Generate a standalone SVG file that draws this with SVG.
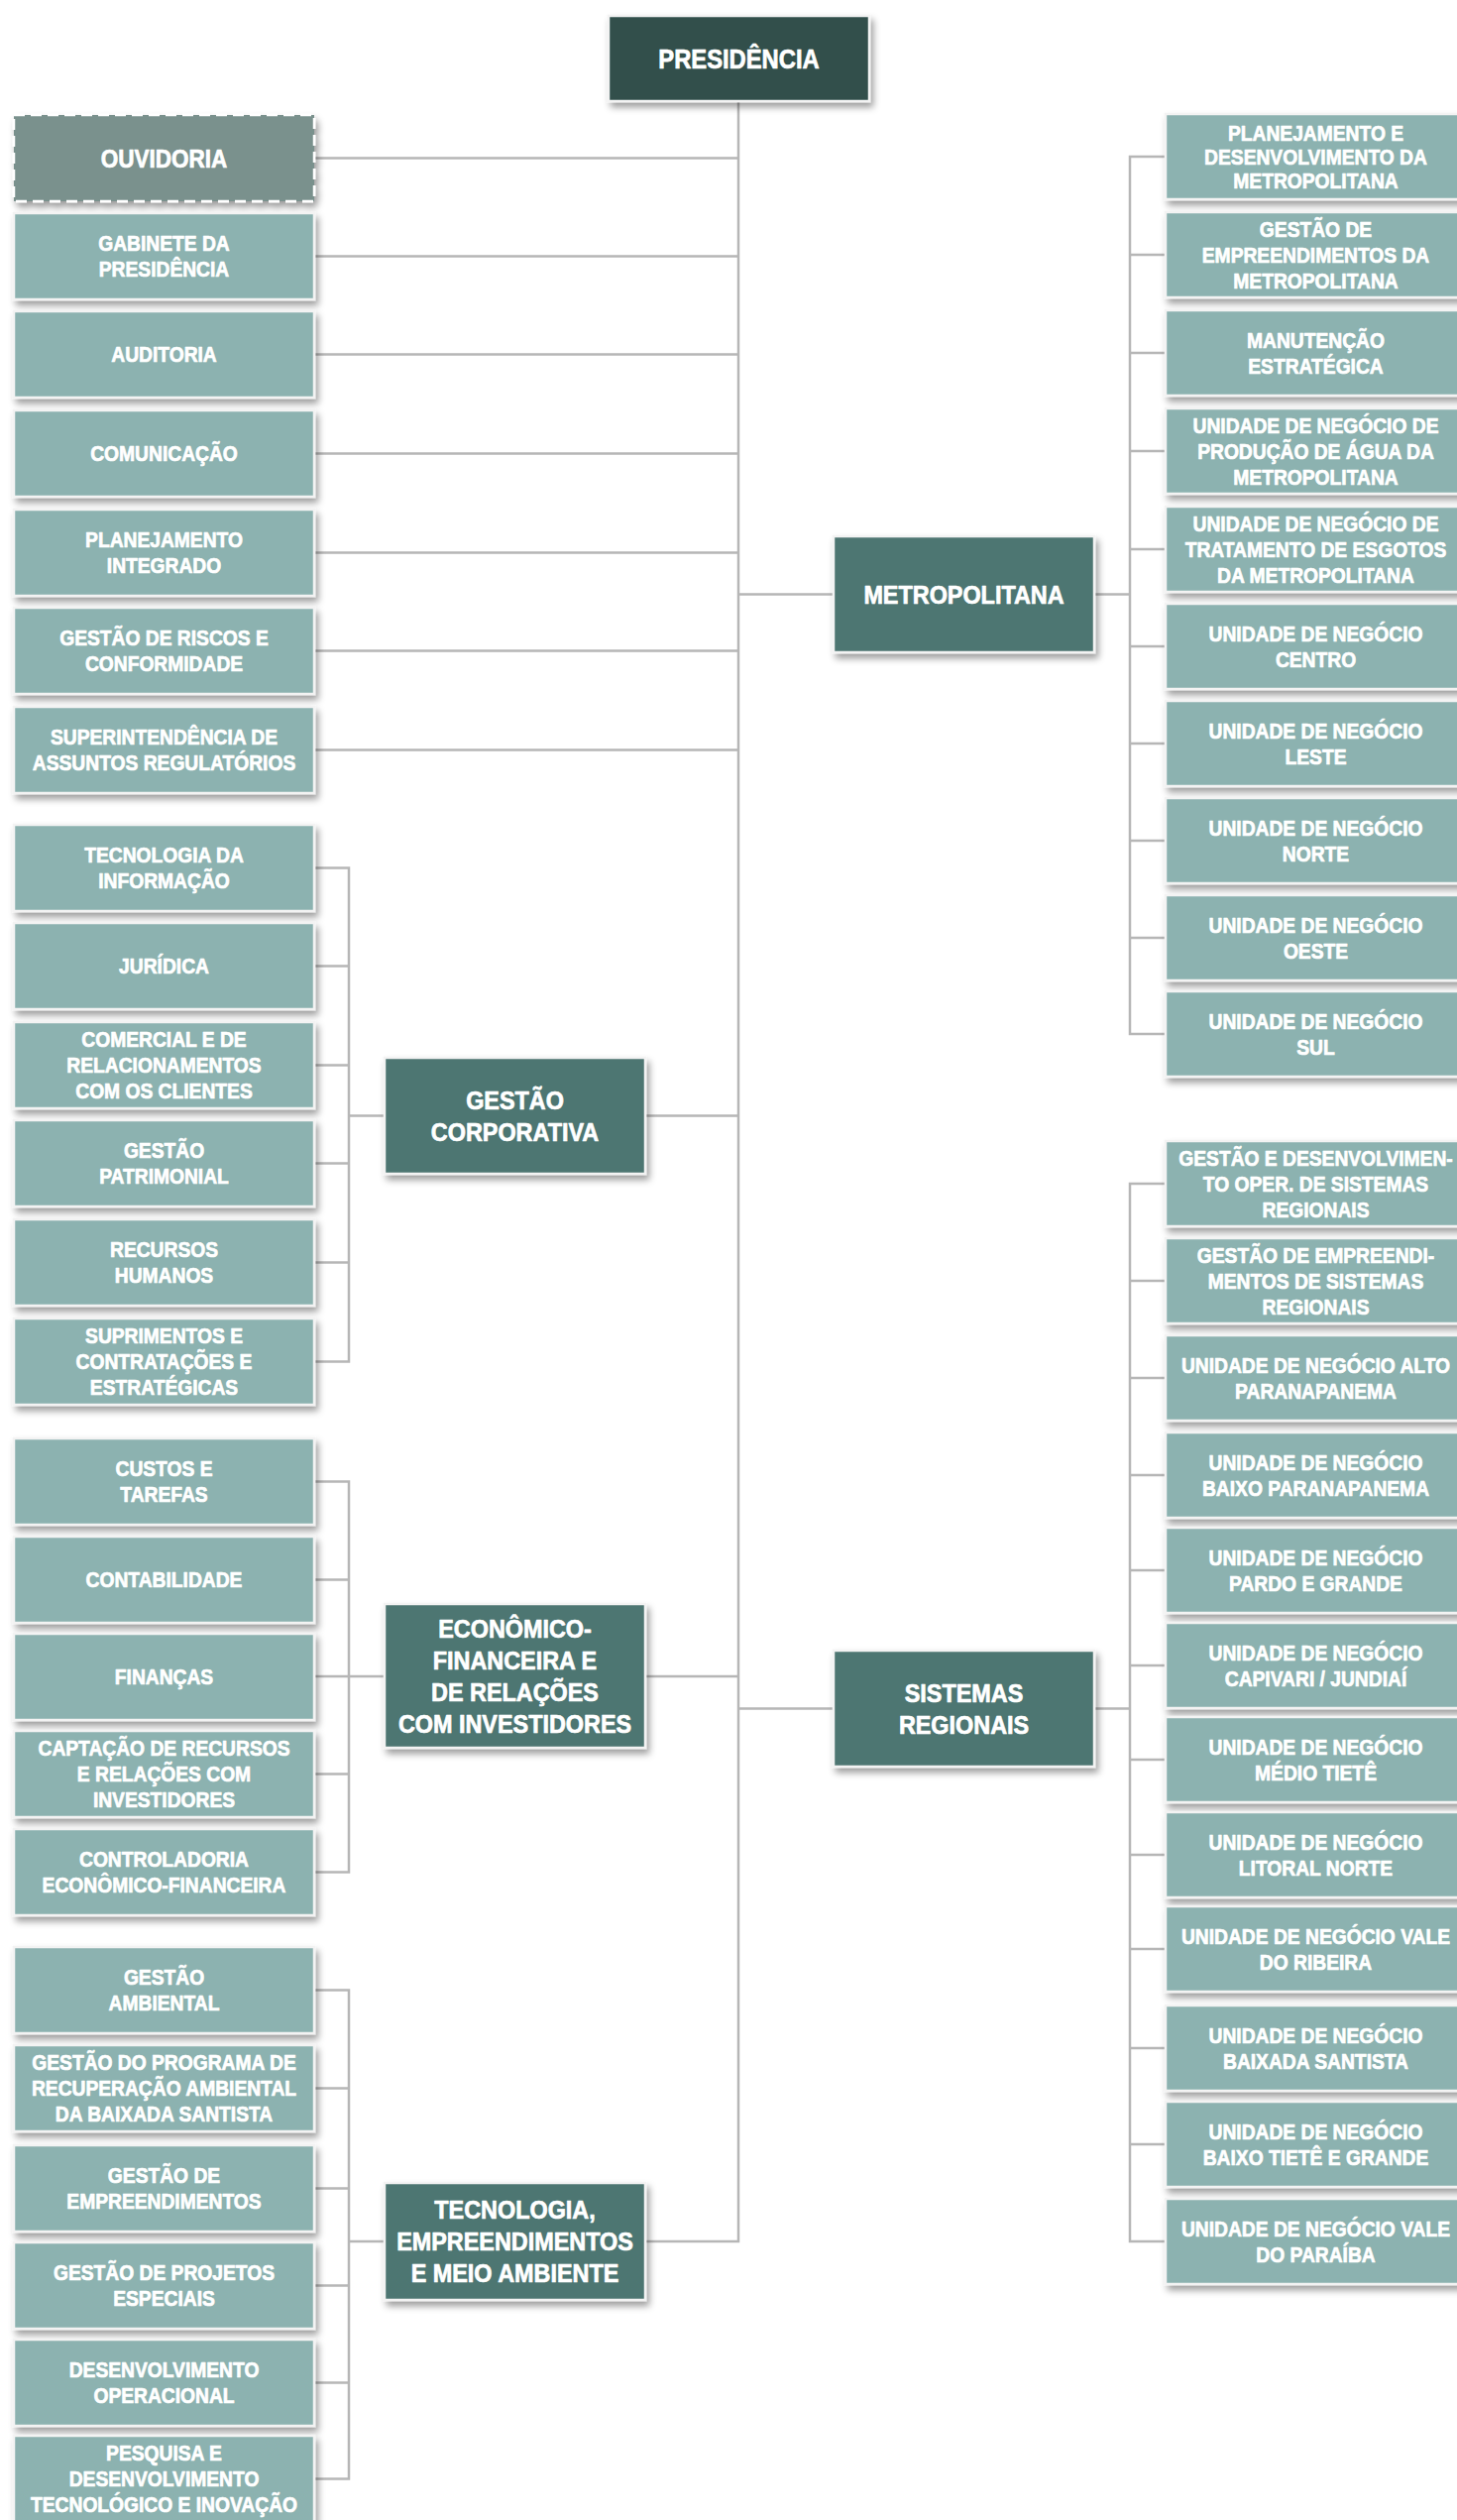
<svg xmlns="http://www.w3.org/2000/svg" width="1470" height="2542" viewBox="0 0 1470 2542">
  <defs>
    <filter id="sh" x="-10%" y="-10%" width="125%" height="140%">
      <feDropShadow dx="3" dy="5" stdDeviation="3.5" flood-color="#000" flood-opacity="0.38"/>
    </filter>
  </defs>
  <style>
    .bg { fill: #ffffff; }
    .c { fill: none; stroke: #b6b6b6; stroke-width: 2.5; }
    .leaf { fill: #8cb2b0; stroke: #f3f3f3; stroke-width: 2.5; filter: url(#sh); }
    .mid { fill: #4e7672; stroke: #f3f3f3; stroke-width: 2.5; filter: url(#sh); }
    .top { fill: #304f4c; stroke: #f3f3f3; stroke-width: 2.5; filter: url(#sh); }
    .ouv { fill: #7a918d; stroke: #ffffff; stroke-width: 2.5; stroke-dasharray: 11 6; filter: url(#sh); }
    text { font-family: "Liberation Sans", Arial, sans-serif; font-weight: bold; fill: #ffffff; stroke: #ffffff; stroke-width: 0.7; stroke-linejoin: round; text-anchor: middle; }
    .t { font-size: 22px; }
    .tm { font-size: 26px; }
    .tp { font-size: 27px; }
    .to { font-size: 25px; }
  </style>
  <rect class="bg" x="0" y="0" width="1470" height="2542"/>

  <!-- connector lines -->
  <g id="connectors">
    <path class="c" d="M745 102 V2261 H651
      M317 159.5 H745 M317 258.5 H745 M317 357.5 H745 M317 457.5 H745 M317 557.5 H745 M317 656.5 H745 M317 756.5 H745
      M651 1125.5 H745 M651 1691 H745 M745 599.5 H841 M745 1723.5 H841
      M317 875.5 H352 V1373.5 H317 M317 974.5 H352 M317 1074.5 H352 M317 1173.5 H352 M317 1273.5 H352 M352 1125.5 H388
      M317 1494.5 H352 V1888.5 H317 M317 1593.5 H352 M317 1691 H388 M317 1789.5 H352
      M317 2007.5 H352 V2500.5 H317 M317 2106.5 H352 M317 2207.5 H352 M317 2305.5 H352 M317 2403.5 H352 M352 2261 H388
      M1176 158 H1140 V1043 H1176 M1176 257 H1140 M1176 356 H1140 M1176 455 H1140 M1176 554 H1140 M1176 652 H1140 M1176 750 H1140 M1176 848 H1140 M1176 946 H1140 M1104 599.5 H1140
      M1176 1194 H1140 V2261 H1176 M1176 1292 H1140 M1176 1390 H1140 M1176 1488 H1140 M1176 1584 H1140 M1176 1680 H1140 M1176 1775 H1140 M1176 1871 H1140 M1176 1966 H1140 M1176 2066 H1140 M1176 2163 H1140 M1104 1723.5 H1140"/>
  </g>

  <!-- top level -->
  <g id="presidencia">
    <rect class="top" x="614" y="16" width="263" height="86"/>
    <text class="tp" transform="translate(745.5 59) scale(.88 1)"><tspan x="0" y="9.7">PRESIDÊNCIA</tspan></text>
  </g>

  <!-- staff units -->
  <g id="ouvidoria">
    <rect class="ouv" x="14" y="116" width="303" height="87"/>
    <text class="to" transform="translate(165.5 159.5) scale(.9 1)"><tspan x="0" y="9">OUVIDORIA</tspan></text>
  </g>
  <g id="gabinete">
    <rect class="leaf" x="14" y="215" width="303" height="87"/>
    <text class="t" transform="translate(165.5 258.5) scale(.875 1)"><tspan x="0" y="-5.1">GABINETE DA</tspan><tspan x="0" y="20.9">PRESIDÊNCIA</tspan></text>
  </g>
  <g id="auditoria">
    <rect class="leaf" x="14" y="314" width="303" height="87"/>
    <text class="t" transform="translate(165.5 357.5) scale(.875 1)"><tspan x="0" y="7.9">AUDITORIA</tspan></text>
  </g>
  <g id="comunicacao">
    <rect class="leaf" x="14" y="414" width="303" height="87"/>
    <text class="t" transform="translate(165.5 457.5) scale(.875 1)"><tspan x="0" y="7.9">COMUNICAÇÃO</tspan></text>
  </g>
  <g id="planejamento-integrado">
    <rect class="leaf" x="14" y="514" width="303" height="87"/>
    <text class="t" transform="translate(165.5 557.5) scale(.875 1)"><tspan x="0" y="-5.1">PLANEJAMENTO</tspan><tspan x="0" y="20.9">INTEGRADO</tspan></text>
  </g>
  <g id="riscos">
    <rect class="leaf" x="14" y="613" width="303" height="87"/>
    <text class="t" transform="translate(165.5 656.5) scale(.875 1)"><tspan x="0" y="-5.1">GESTÃO DE RISCOS E</tspan><tspan x="0" y="20.9">CONFORMIDADE</tspan></text>
  </g>
  <g id="regulatorios">
    <rect class="leaf" x="14" y="713" width="303" height="87"/>
    <text class="t" transform="translate(165.5 756.5) scale(.875 1)"><tspan x="0" y="-5.1">SUPERINTENDÊNCIA DE</tspan><tspan x="0" y="20.9">ASSUNTOS REGULATÓRIOS</tspan></text>
  </g>

  <!-- Gestão Corporativa -->
  <g id="gestao-corporativa">
    <rect class="mid" x="388" y="1067" width="263" height="117"/>
    <text class="tm" transform="translate(519.5 1125.5) scale(.9 1)"><tspan x="0" y="-6.7">GESTÃO</tspan><tspan x="0" y="25.3">CORPORATIVA</tspan></text>
  </g>
  <g id="ti">
    <rect class="leaf" x="14" y="832" width="303" height="87"/>
    <text class="t" transform="translate(165.5 875.5) scale(.875 1)"><tspan x="0" y="-5.1">TECNOLOGIA DA</tspan><tspan x="0" y="20.9">INFORMAÇÃO</tspan></text>
  </g>
  <g id="juridica">
    <rect class="leaf" x="14" y="931" width="303" height="87"/>
    <text class="t" transform="translate(165.5 974.5) scale(.875 1)"><tspan x="0" y="7.9">JURÍDICA</tspan></text>
  </g>
  <g id="comercial">
    <rect class="leaf" x="14" y="1031" width="303" height="87"/>
    <text class="t" transform="translate(165.5 1074.5) scale(.875 1)"><tspan x="0" y="-18.1">COMERCIAL E DE</tspan><tspan x="0" y="7.9">RELACIONAMENTOS</tspan><tspan x="0" y="33.9">COM OS CLIENTES</tspan></text>
  </g>
  <g id="patrimonial">
    <rect class="leaf" x="14" y="1130" width="303" height="87"/>
    <text class="t" transform="translate(165.5 1173.5) scale(.875 1)"><tspan x="0" y="-5.1">GESTÃO</tspan><tspan x="0" y="20.9">PATRIMONIAL</tspan></text>
  </g>
  <g id="rh">
    <rect class="leaf" x="14" y="1230" width="303" height="87"/>
    <text class="t" transform="translate(165.5 1273.5) scale(.875 1)"><tspan x="0" y="-5.1">RECURSOS</tspan><tspan x="0" y="20.9">HUMANOS</tspan></text>
  </g>
  <g id="suprimentos">
    <rect class="leaf" x="14" y="1330" width="303" height="87"/>
    <text class="t" transform="translate(165.5 1373.5) scale(.875 1)"><tspan x="0" y="-18.1">SUPRIMENTOS E</tspan><tspan x="0" y="7.9">CONTRATAÇÕES E</tspan><tspan x="0" y="33.9">ESTRATÉGICAS</tspan></text>
  </g>

  <!-- Econômico-Financeira -->
  <g id="economico-financeira">
    <rect class="mid" x="388" y="1618" width="263" height="145"/>
    <text class="tm" transform="translate(519.5 1690.5) scale(.9 1)"><tspan x="0" y="-38.7">ECONÔMICO-</tspan><tspan x="0" y="-6.7">FINANCEIRA E</tspan><tspan x="0" y="25.3">DE RELAÇÕES</tspan><tspan x="0" y="57.3">COM INVESTIDORES</tspan></text>
  </g>
  <g id="custos">
    <rect class="leaf" x="14" y="1451" width="303" height="87"/>
    <text class="t" transform="translate(165.5 1494.5) scale(.875 1)"><tspan x="0" y="-5.1">CUSTOS E</tspan><tspan x="0" y="20.9">TAREFAS</tspan></text>
  </g>
  <g id="contabilidade">
    <rect class="leaf" x="14" y="1550" width="303" height="87"/>
    <text class="t" transform="translate(165.5 1593.5) scale(.875 1)"><tspan x="0" y="7.9">CONTABILIDADE</tspan></text>
  </g>
  <g id="financas">
    <rect class="leaf" x="14" y="1648" width="303" height="87"/>
    <text class="t" transform="translate(165.5 1691.5) scale(.875 1)"><tspan x="0" y="7.9">FINANÇAS</tspan></text>
  </g>
  <g id="captacao">
    <rect class="leaf" x="14" y="1746" width="303" height="87"/>
    <text class="t" transform="translate(165.5 1789.5) scale(.875 1)"><tspan x="0" y="-18.1">CAPTAÇÃO DE RECURSOS</tspan><tspan x="0" y="7.9">E RELAÇÕES COM</tspan><tspan x="0" y="33.9">INVESTIDORES</tspan></text>
  </g>
  <g id="controladoria">
    <rect class="leaf" x="14" y="1845" width="303" height="87"/>
    <text class="t" transform="translate(165.5 1888.5) scale(.875 1)"><tspan x="0" y="-5.1">CONTROLADORIA</tspan><tspan x="0" y="20.9">ECONÔMICO-FINANCEIRA</tspan></text>
  </g>

  <!-- Tecnologia, Empreendimentos e Meio Ambiente -->
  <g id="tecnologia-empreendimentos">
    <rect class="mid" x="388" y="2202" width="263" height="118"/>
    <text class="tm" transform="translate(519.5 2261) scale(.9 1)"><tspan x="0" y="-22.7">TECNOLOGIA,</tspan><tspan x="0" y="9.3">EMPREENDIMENTOS</tspan><tspan x="0" y="41.3">E MEIO AMBIENTE</tspan></text>
  </g>
  <g id="ambiental">
    <rect class="leaf" x="14" y="1964" width="303" height="87"/>
    <text class="t" transform="translate(165.5 2007.5) scale(.875 1)"><tspan x="0" y="-5.1">GESTÃO</tspan><tspan x="0" y="20.9">AMBIENTAL</tspan></text>
  </g>
  <g id="programa-baixada">
    <rect class="leaf" x="14" y="2063" width="303" height="87"/>
    <text class="t" transform="translate(165.5 2106.5) scale(.875 1)"><tspan x="0" y="-18.1">GESTÃO DO PROGRAMA DE</tspan><tspan x="0" y="7.9">RECUPERAÇÃO AMBIENTAL</tspan><tspan x="0" y="33.9">DA BAIXADA SANTISTA</tspan></text>
  </g>
  <g id="empreendimentos">
    <rect class="leaf" x="14" y="2164" width="303" height="87"/>
    <text class="t" transform="translate(165.5 2207.5) scale(.875 1)"><tspan x="0" y="-5.1">GESTÃO DE</tspan><tspan x="0" y="20.9">EMPREENDIMENTOS</tspan></text>
  </g>
  <g id="projetos-especiais">
    <rect class="leaf" x="14" y="2262" width="303" height="87"/>
    <text class="t" transform="translate(165.5 2305.5) scale(.875 1)"><tspan x="0" y="-5.1">GESTÃO DE PROJETOS</tspan><tspan x="0" y="20.9">ESPECIAIS</tspan></text>
  </g>
  <g id="desenvolvimento-operacional">
    <rect class="leaf" x="14" y="2360" width="303" height="87"/>
    <text class="t" transform="translate(165.5 2403.5) scale(.875 1)"><tspan x="0" y="-5.1">DESENVOLVIMENTO</tspan><tspan x="0" y="20.9">OPERACIONAL</tspan></text>
  </g>
  <g id="pesquisa">
    <rect class="leaf" x="14" y="2457" width="303" height="87"/>
    <text class="t" transform="translate(165.5 2500.5) scale(.875 1)"><tspan x="0" y="-18.1">PESQUISA E</tspan><tspan x="0" y="7.9">DESENVOLVIMENTO</tspan><tspan x="0" y="33.9">TECNOLÓGICO E INOVAÇÃO</tspan></text>
  </g>

  <!-- Metropolitana -->
  <g id="metropolitana">
    <rect class="mid" x="841" y="541" width="263" height="117"/>
    <text class="tm" transform="translate(972.5 599.5) scale(.9 1)"><tspan x="0" y="9.3">METROPOLITANA</tspan></text>
  </g>
  <g id="m-planejamento">
    <rect class="leaf" x="1176" y="115" width="303" height="86"/>
    <text class="t" transform="translate(1327.5 158) scale(.875 1)"><tspan x="0" y="-16.1">PLANEJAMENTO E</tspan><tspan x="0" y="7.9">DESENVOLVIMENTO DA</tspan><tspan x="0" y="31.9">METROPOLITANA</tspan></text>
  </g>
  <g id="m-empreendimentos">
    <rect class="leaf" x="1176" y="214" width="303" height="86"/>
    <text class="t" transform="translate(1327.5 257) scale(.875 1)"><tspan x="0" y="-18.1">GESTÃO DE</tspan><tspan x="0" y="7.9">EMPREENDIMENTOS DA</tspan><tspan x="0" y="33.9">METROPOLITANA</tspan></text>
  </g>
  <g id="m-manutencao">
    <rect class="leaf" x="1176" y="313" width="303" height="86"/>
    <text class="t" transform="translate(1327.5 356) scale(.875 1)"><tspan x="0" y="-5.1">MANUTENÇÃO</tspan><tspan x="0" y="20.9">ESTRATÉGICA</tspan></text>
  </g>
  <g id="m-producao-agua">
    <rect class="leaf" x="1176" y="412" width="303" height="86"/>
    <text class="t" transform="translate(1327.5 455) scale(.875 1)"><tspan x="0" y="-18.1">UNIDADE DE NEGÓCIO DE</tspan><tspan x="0" y="7.9">PRODUÇÃO DE ÁGUA DA</tspan><tspan x="0" y="33.9">METROPOLITANA</tspan></text>
  </g>
  <g id="m-tratamento-esgotos">
    <rect class="leaf" x="1176" y="511" width="303" height="86"/>
    <text class="t" transform="translate(1327.5 554) scale(.875 1)"><tspan x="0" y="-18.1">UNIDADE DE NEGÓCIO DE</tspan><tspan x="0" y="7.9">TRATAMENTO DE ESGOTOS</tspan><tspan x="0" y="33.9">DA METROPOLITANA</tspan></text>
  </g>
  <g id="m-centro">
    <rect class="leaf" x="1176" y="609" width="303" height="86"/>
    <text class="t" transform="translate(1327.5 652) scale(.875 1)"><tspan x="0" y="-5.1">UNIDADE DE NEGÓCIO</tspan><tspan x="0" y="20.9">CENTRO</tspan></text>
  </g>
  <g id="m-leste">
    <rect class="leaf" x="1176" y="707" width="303" height="86"/>
    <text class="t" transform="translate(1327.5 750) scale(.875 1)"><tspan x="0" y="-5.1">UNIDADE DE NEGÓCIO</tspan><tspan x="0" y="20.9">LESTE</tspan></text>
  </g>
  <g id="m-norte">
    <rect class="leaf" x="1176" y="805" width="303" height="86"/>
    <text class="t" transform="translate(1327.5 848) scale(.875 1)"><tspan x="0" y="-5.1">UNIDADE DE NEGÓCIO</tspan><tspan x="0" y="20.9">NORTE</tspan></text>
  </g>
  <g id="m-oeste">
    <rect class="leaf" x="1176" y="903" width="303" height="86"/>
    <text class="t" transform="translate(1327.5 946) scale(.875 1)"><tspan x="0" y="-5.1">UNIDADE DE NEGÓCIO</tspan><tspan x="0" y="20.9">OESTE</tspan></text>
  </g>
  <g id="m-sul">
    <rect class="leaf" x="1176" y="1000" width="303" height="86"/>
    <text class="t" transform="translate(1327.5 1043) scale(.875 1)"><tspan x="0" y="-5.1">UNIDADE DE NEGÓCIO</tspan><tspan x="0" y="20.9">SUL</tspan></text>
  </g>

  <!-- Sistemas Regionais -->
  <g id="sistemas-regionais">
    <rect class="mid" x="841" y="1665" width="263" height="117"/>
    <text class="tm" transform="translate(972.5 1723.5) scale(.9 1)"><tspan x="0" y="-6.7">SISTEMAS</tspan><tspan x="0" y="25.3">REGIONAIS</tspan></text>
  </g>
  <g id="s-desenvolvimento">
    <rect class="leaf" x="1176" y="1151" width="303" height="86"/>
    <text class="t" transform="translate(1327.5 1194) scale(.875 1)"><tspan x="0" y="-18.1">GESTÃO E DESENVOLVIMEN-</tspan><tspan x="0" y="7.9">TO OPER. DE SISTEMAS</tspan><tspan x="0" y="33.9">REGIONAIS</tspan></text>
  </g>
  <g id="s-empreendimentos">
    <rect class="leaf" x="1176" y="1249" width="303" height="86"/>
    <text class="t" transform="translate(1327.5 1292) scale(.875 1)"><tspan x="0" y="-18.1">GESTÃO DE EMPREENDI-</tspan><tspan x="0" y="7.9">MENTOS DE SISTEMAS</tspan><tspan x="0" y="33.9">REGIONAIS</tspan></text>
  </g>
  <g id="s-alto-paranapanema">
    <rect class="leaf" x="1176" y="1347" width="303" height="86"/>
    <text class="t" transform="translate(1327.5 1390) scale(.875 1)"><tspan x="0" y="-5.1">UNIDADE DE NEGÓCIO ALTO</tspan><tspan x="0" y="20.9">PARANAPANEMA</tspan></text>
  </g>
  <g id="s-baixo-paranapanema">
    <rect class="leaf" x="1176" y="1445" width="303" height="86"/>
    <text class="t" transform="translate(1327.5 1488) scale(.875 1)"><tspan x="0" y="-5.1">UNIDADE DE NEGÓCIO</tspan><tspan x="0" y="20.9">BAIXO PARANAPANEMA</tspan></text>
  </g>
  <g id="s-pardo-grande">
    <rect class="leaf" x="1176" y="1541" width="303" height="86"/>
    <text class="t" transform="translate(1327.5 1584) scale(.875 1)"><tspan x="0" y="-5.1">UNIDADE DE NEGÓCIO</tspan><tspan x="0" y="20.9">PARDO E GRANDE</tspan></text>
  </g>
  <g id="s-capivari-jundiai">
    <rect class="leaf" x="1176" y="1637" width="303" height="86"/>
    <text class="t" transform="translate(1327.5 1680) scale(.875 1)"><tspan x="0" y="-5.1">UNIDADE DE NEGÓCIO</tspan><tspan x="0" y="20.9">CAPIVARI / JUNDIAÍ</tspan></text>
  </g>
  <g id="s-medio-tiete">
    <rect class="leaf" x="1176" y="1732" width="303" height="86"/>
    <text class="t" transform="translate(1327.5 1775) scale(.875 1)"><tspan x="0" y="-5.1">UNIDADE DE NEGÓCIO</tspan><tspan x="0" y="20.9">MÉDIO TIETÊ</tspan></text>
  </g>
  <g id="s-litoral-norte">
    <rect class="leaf" x="1176" y="1828" width="303" height="86"/>
    <text class="t" transform="translate(1327.5 1871) scale(.875 1)"><tspan x="0" y="-5.1">UNIDADE DE NEGÓCIO</tspan><tspan x="0" y="20.9">LITORAL NORTE</tspan></text>
  </g>
  <g id="s-vale-ribeira">
    <rect class="leaf" x="1176" y="1923" width="303" height="86"/>
    <text class="t" transform="translate(1327.5 1966) scale(.875 1)"><tspan x="0" y="-5.1">UNIDADE DE NEGÓCIO VALE</tspan><tspan x="0" y="20.9">DO RIBEIRA</tspan></text>
  </g>
  <g id="s-baixada-santista">
    <rect class="leaf" x="1176" y="2023" width="303" height="86"/>
    <text class="t" transform="translate(1327.5 2066) scale(.875 1)"><tspan x="0" y="-5.1">UNIDADE DE NEGÓCIO</tspan><tspan x="0" y="20.9">BAIXADA SANTISTA</tspan></text>
  </g>
  <g id="s-baixo-tiete">
    <rect class="leaf" x="1176" y="2120" width="303" height="86"/>
    <text class="t" transform="translate(1327.5 2163) scale(.875 1)"><tspan x="0" y="-5.1">UNIDADE DE NEGÓCIO</tspan><tspan x="0" y="20.9">BAIXO TIETÊ E GRANDE</tspan></text>
  </g>
  <g id="s-vale-paraiba">
    <rect class="leaf" x="1176" y="2218" width="303" height="86"/>
    <text class="t" transform="translate(1327.5 2261) scale(.875 1)"><tspan x="0" y="-5.1">UNIDADE DE NEGÓCIO VALE</tspan><tspan x="0" y="20.9">DO PARAÍBA</tspan></text>
  </g>
</svg>
